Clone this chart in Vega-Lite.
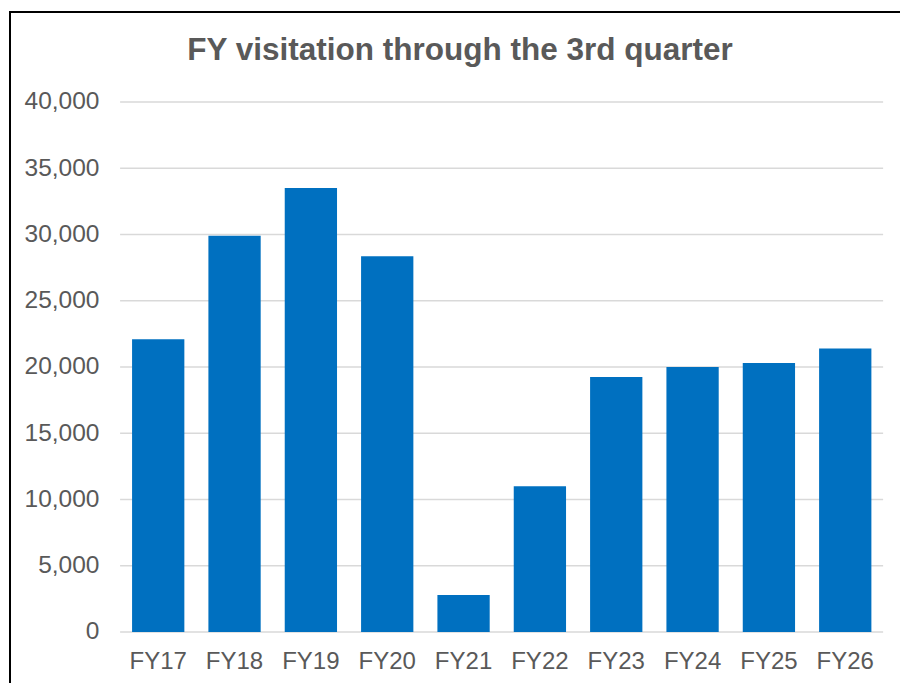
{
  "$schema": "https://vega.github.io/schema/vega-lite/v6.json",
  "width": 892,
  "height": 700,
  "autosize": "none",
  "padding": {"left": 10, "top": 12, "right": 0, "bottom": 0},
  "background": "white",
  "config": {
    "view": {"stroke": "black", "strokeWidth": 2},
    "font": "Liberation Sans"
  },
  "title": {
    "text": "FY visitation through the 3rd quarter",
    "fontSize": 31.5,
    "fontWeight": "bold",
    "color": "#595959",
    "font": "Liberation Sans",
    "anchor": "middle",
    "frame": "group",
    "baseline": "alphabetic",
    "offset": -79,
    "dx": 4
  },
  "datasets": {
    "bars": [
      {"fy": "FY17", "visits": 22100},
      {"fy": "FY18", "visits": 29900},
      {"fy": "FY19", "visits": 33500},
      {"fy": "FY20", "visits": 28350},
      {"fy": "FY21", "visits": 2800},
      {"fy": "FY22", "visits": 11000},
      {"fy": "FY23", "visits": 19250},
      {"fy": "FY24", "visits": 20000},
      {"fy": "FY25", "visits": 20300},
      {"fy": "FY26", "visits": 21400}
    ],
    "grid": [
      {"v": 0}, {"v": 5000}, {"v": 10000}, {"v": 15000}, {"v": 20000},
      {"v": 25000}, {"v": 30000}, {"v": 35000}, {"v": 40000}
    ]
  },
  "layer": [
    {
      "data": {"name": "grid"},
      "mark": {"type": "rule", "color": "#d9d9d9", "strokeWidth": 1.3},
      "encoding": {
        "y": {
          "field": "v",
          "type": "quantitative",
          "scale": {"domain": [-6037.74, 46792.45], "nice": false, "zero": false},
          "axis": {
            "offset": -110,
            "labelPadding": 21,
            "ticks": false,
            "domain": false,
            "grid": false,
            "values": [0, 5000, 10000, 15000, 20000, 25000, 30000, 35000, 40000],
            "format": ",d",
            "labelFontSize": 24.5,
            "labelColor": "#595959",
            "labelFont": "Liberation Sans",
            "title": null
          }
        },
        "x": {
          "datum": "FY17",
          "type": "nominal",
          "bandPosition": -0.229,
          "scale": {
            "domain": ["FY17", "FY18", "FY19", "FY20", "FY21", "FY22", "FY23", "FY24", "FY25", "FY26"],
            "paddingInner": 0.315,
            "paddingOuter": 1,
            "align": 0.7995
          },
          "axis": {
            "orient": "bottom",
            "offset": -80,
            "ticks": false,
            "domain": false,
            "grid": false,
            "labelPadding": 36,
            "labelBaseline": "alphabetic",
            "labelFontSize": 24,
            "labelColor": "#595959",
            "labelFont": "Liberation Sans",
            "labelAngle": 0,
            "title": null
          }
        },
        "x2": {"datum": "FY26", "bandPosition": 1.224}
      }
    },
    {
      "data": {"name": "bars"},
      "mark": {"type": "bar", "color": "#0070C0"},
      "encoding": {
        "x": {"field": "fy", "type": "nominal", "sort": null},
        "y": {"field": "visits", "type": "quantitative"}
      }
    }
  ]
}
